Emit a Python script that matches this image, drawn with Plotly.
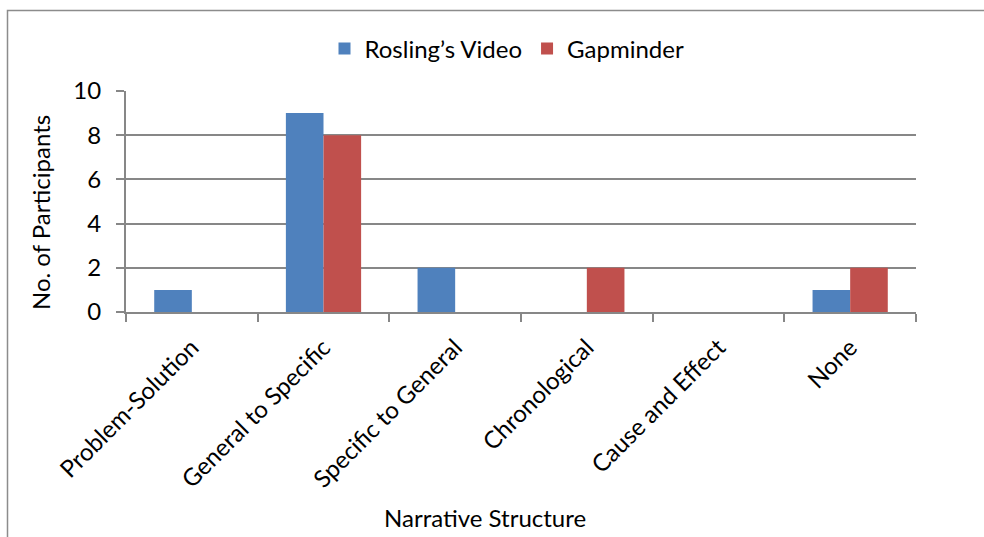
import plotly.graph_objects as go

# Narrative structure categories and participant counts per condition
categories = ["Problem-Solution", "General to Specific", "Specific to General",
              "Chronological", "Cause and Effect", "None"]
rosling_video = [1, 9, 2, 0, 0, 1]
gapminder = [0, 8, 0, 2, 0, 2]
y_ticks = [0, 2, 4, 6, 8, 10]

FONT = "Lato"
FS = 24
GRID = "#878787"

fig = go.Figure()
fig.add_trace(go.Bar(name="Rosling\u2019s Video", x=categories, y=rosling_video,
                     marker=dict(color="#4F81BD", line=dict(width=0))))
fig.add_trace(go.Bar(name="Gapminder", x=categories, y=gapminder,
                     marker=dict(color="#C0504D", line=dict(width=0))))

W, H = 984, 537
L, R, T, B = 126, 68, 91, 225
pw, ph = W - L - R, H - T - B


def px_x(x):
    return (x - L) / pw


def px_y(y):
    return (H - B - y) / ph


fig.update_layout(
    width=W, height=H,
    margin=dict(l=L, r=R, t=T, b=B, pad=0),
    paper_bgcolor="white", plot_bgcolor="white",
    font=dict(family=FONT, size=FS, color="black"),
    barmode="group", bargap=0.4286, bargroupgap=0,
    showlegend=True,
    legend=dict(orientation="h", x=px_x(507), xanchor="center",
                y=px_y(49), yanchor="middle", font=dict(size=FS),
                itemwidth=30, itemsizing="constant", traceorder="normal"),
    xaxis=dict(showline=True, linecolor=GRID, linewidth=2,
               ticks="outside", ticklen=8, tickcolor=GRID, tickwidth=2,
               tickson="boundaries", tickangle=-45, ticklabelstandoff=10,
               tickfont=dict(size=FS), showgrid=False),
    yaxis=dict(range=[0, 10], tickvals=y_ticks, showline=True,
               linecolor=GRID, linewidth=2, ticks="outside", ticklen=8,
               tickcolor=GRID, tickwidth=2, showgrid=True, gridcolor=GRID,
               gridwidth=2, zeroline=False, tickfont=dict(size=FS),
               ticklabelstandoff=10),
    shapes=[dict(type="rect", xref="paper", yref="paper",
                 x0=px_x(7.5), x1=px_x(1200), y0=px_y(800), y1=px_y(10.5),
                 line=dict(color="#8C8C8C", width=1.5), layer="below")],
    annotations=[
        dict(text="No. of Participants", xref="paper", yref="paper",
             x=px_x(40), y=px_y(213), textangle=-90, showarrow=False,
             xanchor="center", yanchor="middle", font=dict(size=FS)),
        dict(text="Narrative Structure", xref="paper", yref="paper",
             x=px_x(485), y=px_y(517), showarrow=False,
             xanchor="center", yanchor="middle", font=dict(size=FS)),
    ],
)

fig.write_html("out.html")
